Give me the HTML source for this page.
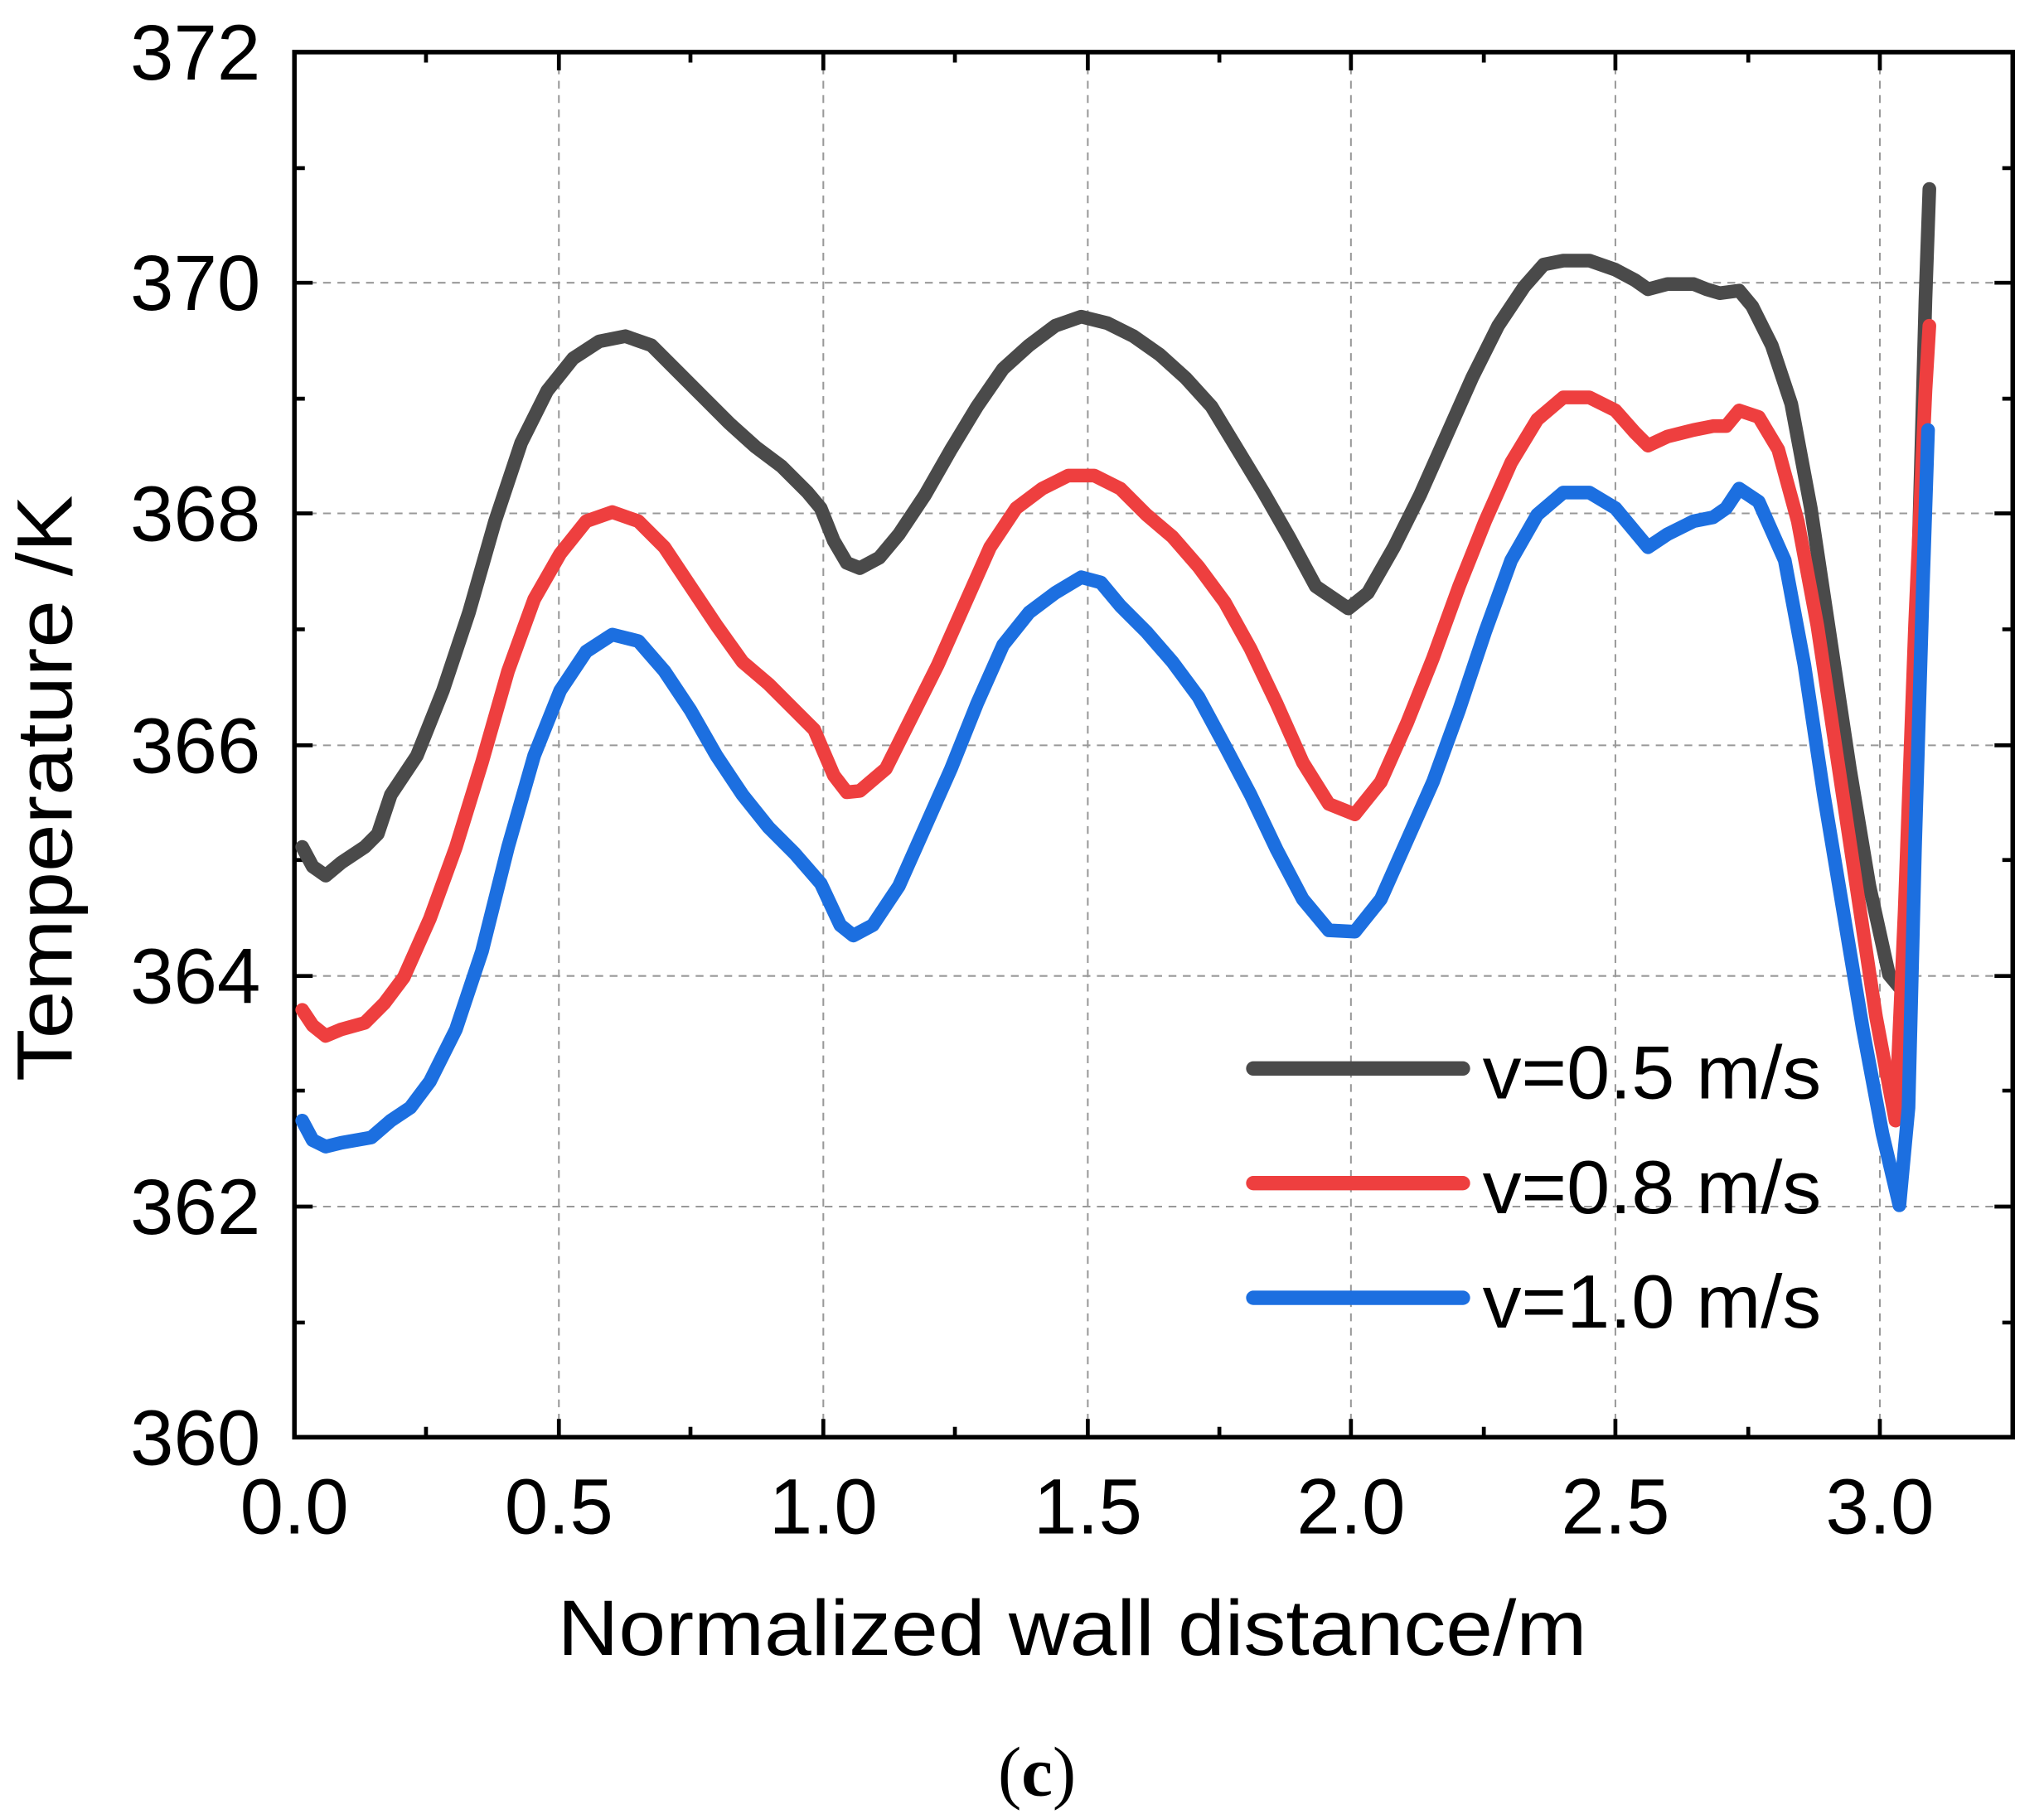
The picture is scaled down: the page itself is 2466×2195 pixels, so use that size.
<!DOCTYPE html>
<html><head><style>html,body{margin:0;padding:0;background:#fff}svg{display:block}</style></head>
<body>
<svg width="2466" height="2195" viewBox="0 0 1569 1396" preserveAspectRatio="none" xmlns="http://www.w3.org/2000/svg" font-family="'Liberation Sans', sans-serif">
<rect width="1569" height="1396" fill="#fff"/>
<g stroke="#999" stroke-width="1.3" stroke-dasharray="6,5">
<line x1="429" y1="40" x2="429" y2="1103"/><line x1="632" y1="40" x2="632" y2="1103"/><line x1="835" y1="40" x2="835" y2="1103"/><line x1="1037" y1="40" x2="1037" y2="1103"/><line x1="1240" y1="40" x2="1240" y2="1103"/><line x1="1443" y1="40" x2="1443" y2="1103"/>
<line x1="226" y1="926" x2="1545" y2="926"/><line x1="226" y1="749" x2="1545" y2="749"/><line x1="226" y1="572" x2="1545" y2="572"/><line x1="226" y1="394" x2="1545" y2="394"/><line x1="226" y1="217" x2="1545" y2="217"/>
</g>
<g stroke="#000" stroke-width="3">
<path d="M429 1103v-14M632 1103v-14M835 1103v-14M1037 1103v-14M1240 1103v-14M1443 1103v-14M327 1103v-8M530 1103v-8M733 1103v-8M936 1103v-8M1139 1103v-8M1342 1103v-8
M429 40v14M632 40v14M835 40v14M1037 40v14M1240 40v14M1443 40v14M327 40v8M530 40v8M733 40v8M936 40v8M1139 40v8M1342 40v8
M226 926h14M226 749h14M226 572h14M226 394h14M226 217h14M226 1015h8M226 837h8M226 660h8M226 483h8M226 306h8M226 129h8
M1545 926h-14M1545 749h-14M1545 572h-14M1545 394h-14M1545 217h-14M1545 1015h-8M1545 837h-8M1545 660h-8M1545 483h-8M1545 306h-8M1545 129h-8"/>
</g>
<rect x="226" y="40" width="1319" height="1063" fill="none" stroke="#000" stroke-width="3.5"/>
<g fill="none" stroke-width="10.5" stroke-linejoin="round" stroke-linecap="round">
<polyline stroke="#4a4a4a" points="232,650 240,665 250,672 262,662 280,650 290,640 300,610 320,580 340,530 360,470 380,400 400,340 420,300 440,275 460,262 480,258 500,265 520,285 540,305 560,325 580,343 600,358 620,378 630,390 640,415 650,432 660,436 675,428 690,410 710,380 730,345 750,312 770,283 790,265 810,250 830,243 850,248 870,258 890,272 910,290 930,312 950,345 970,378 990,413 1010,450 1035,467 1050,455 1070,420 1090,380 1110,335 1130,290 1150,250 1170,220 1185,203 1200,200 1220,200 1240,207 1255,215 1265,222 1280,218 1300,218 1310,222 1320,225 1335,223 1345,235 1360,265 1375,310 1390,390 1405,490 1420,590 1435,680 1450,748 1460,760 1465,650 1472,450 1478,230 1481,145"/>
<polyline stroke="#ee3f3f" points="232,775 240,787 250,795 262,790 280,785 295,770 310,750 330,705 350,650 370,585 390,515 410,460 430,425 450,400 470,393 490,400 510,420 530,450 550,480 570,508 590,525 610,545 625,560 640,595 650,608 660,607 680,590 700,550 720,510 740,465 760,420 780,390 800,375 820,365 840,365 860,375 880,395 900,412 920,435 940,462 960,498 980,540 1000,585 1020,617 1040,625 1060,600 1080,555 1100,505 1120,450 1140,400 1160,355 1180,322 1200,305 1220,305 1240,315 1255,332 1265,342 1280,335 1300,330 1315,327 1325,327 1335,315 1350,320 1365,345 1380,400 1395,480 1410,580 1425,680 1440,780 1455,860 1462,700 1470,480 1478,300 1481,250"/>
<polyline stroke="#1c6fe0" points="232,860 240,875 250,880 262,877 285,873 300,860 315,850 330,830 350,790 370,730 390,650 410,580 430,530 450,500 470,487 490,492 510,515 530,545 550,580 570,610 590,635 610,655 630,678 645,710 655,718 670,710 690,680 710,635 730,590 750,540 770,495 790,470 810,455 830,443 845,447 860,465 880,485 900,508 920,535 940,572 960,610 980,652 1000,690 1020,714 1040,715 1060,690 1080,645 1100,600 1120,545 1140,485 1160,430 1180,395 1200,378 1220,378 1240,390 1255,408 1265,420 1280,410 1300,400 1315,397 1325,390 1335,375 1350,385 1370,430 1385,510 1400,610 1415,700 1430,790 1445,870 1458,925 1465,850 1470,650 1476,450 1480,330"/>
</g>
<g stroke-width="11" stroke-linecap="round">
<line x1="962" y1="820" x2="1123" y2="820" stroke="#4a4a4a"/>
<line x1="962" y1="908" x2="1123" y2="908" stroke="#ee3f3f"/>
<line x1="962" y1="996" x2="1123" y2="996" stroke="#1c6fe0"/>
</g>
<g font-size="58" fill="#000">
<text x="1138" y="843" textLength="260" lengthAdjust="spacingAndGlyphs">v=0.5 m/s</text>
<text x="1138" y="931" textLength="260" lengthAdjust="spacingAndGlyphs">v=0.8 m/s</text>
<text x="1138" y="1019" textLength="260" lengthAdjust="spacingAndGlyphs">v=1.0 m/s</text>
</g>
<g font-size="60" fill="#000" text-anchor="end">
<text x="200" y="61">372</text><text x="200" y="238">370</text><text x="200" y="415">368</text><text x="200" y="593">366</text><text x="200" y="770">364</text><text x="200" y="947">362</text><text x="200" y="1124">360</text>
</g>
<g font-size="60" fill="#000" text-anchor="middle">
<text x="226" y="1177">0.0</text><text x="429" y="1177">0.5</text><text x="632" y="1177">1.0</text><text x="835" y="1177">1.5</text><text x="1037" y="1177">2.0</text><text x="1240" y="1177">2.5</text><text x="1443" y="1177">3.0</text>
</g>
<text x="823" y="1270" font-size="60" text-anchor="middle" textLength="790" lengthAdjust="spacingAndGlyphs">Normalized wall distance/m</text>
<text transform="translate(55,605) rotate(-90)" font-size="60" text-anchor="middle" textLength="450" lengthAdjust="spacingAndGlyphs">Temperature /K</text>
<text x="796" y="1378" font-size="54" font-family="'Liberation Serif', serif" text-anchor="middle">(<tspan font-weight="bold">c</tspan>)</text>
</svg>
</body></html>
